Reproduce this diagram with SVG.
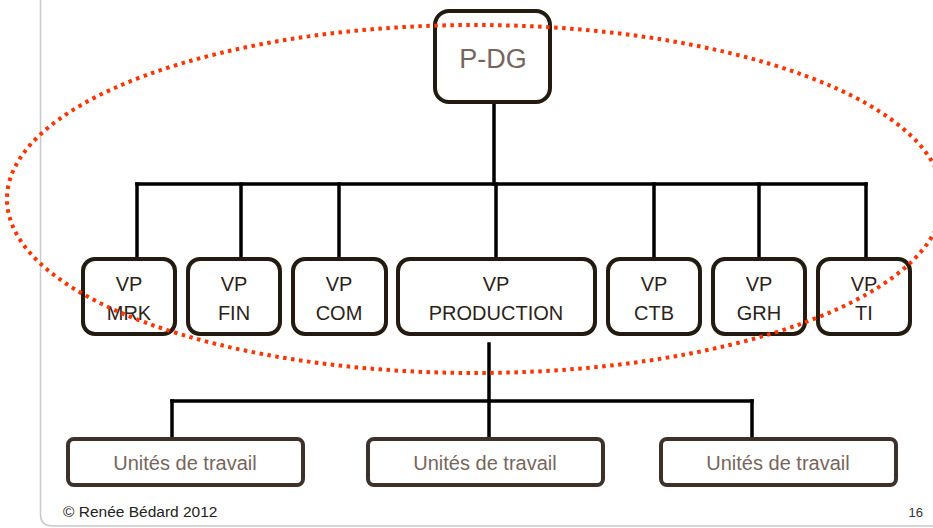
<svg xmlns="http://www.w3.org/2000/svg" width="933" height="528" viewBox="0 0 933 528">
<style>
.box{fill:#ffffff;stroke:#231a10;stroke-width:4}
.ubox{fill:#ffffff;stroke:#3d312a;stroke-width:4}
.vt{font-family:"Liberation Sans",Arial,sans-serif;font-size:20px;fill:#2b2218;text-anchor:middle}
.ut{font-family:"Liberation Sans",Arial,sans-serif;font-size:20px;fill:#76665d;text-anchor:middle}
.conn line{stroke:#000000;stroke-width:3.5;stroke-linecap:square}
</style>
<rect width="933" height="528" fill="#ffffff"/>
<path d="M40.5 0 V514 Q40.5 526 52.5 526 H933" fill="none" stroke="#c8c8c8" stroke-width="1.5"/>
<g id="connectors" class="conn">
<line x1="494" y1="104" x2="494" y2="184"/>
<line x1="137" y1="184" x2="866" y2="184"/>
<line x1="137" y1="184" x2="137" y2="256"/>
<line x1="241" y1="184" x2="241" y2="256"/>
<line x1="339" y1="184" x2="339" y2="256"/>
<line x1="496" y1="184" x2="496" y2="256"/>
<line x1="654" y1="184" x2="654" y2="256"/>
<line x1="759" y1="184" x2="759" y2="256"/>
<line x1="866" y1="184" x2="866" y2="256"/>
<line x1="489" y1="344" x2="489" y2="437"/>
<line x1="172" y1="401" x2="752" y2="401"/>
<line x1="172" y1="401" x2="172" y2="437"/>
<line x1="752" y1="401" x2="752" y2="437"/>
</g>
<g id="pdg">
<rect class="box" x="435" y="11" width="115" height="91" rx="14"/>
<text x="493" y="68" font-family="Liberation Sans,Arial,sans-serif" font-size="27" fill="#76665d" text-anchor="middle">P-DG</text>
</g>
<g id="vp-mrk"><rect class="box" x="83" y="259" width="92" height="75" rx="12"/><text class="vt" x="129" y="291">VP</text><text class="vt" x="129" y="320">MRK</text></g>
<g id="vp-fin"><rect class="box" x="188" y="259" width="92" height="75" rx="12"/><text class="vt" x="234" y="291">VP</text><text class="vt" x="234" y="320">FIN</text></g>
<g id="vp-com"><rect class="box" x="293" y="259" width="93" height="75" rx="12"/><text class="vt" x="339" y="291">VP</text><text class="vt" x="339" y="320">COM</text></g>
<g id="vp-production"><rect class="box" x="398" y="259" width="197" height="75" rx="12"/><text class="vt" x="496" y="291">VP</text><text class="vt" x="496" y="320">PRODUCTION</text></g>
<g id="vp-ctb"><rect class="box" x="608" y="259" width="92" height="75" rx="12"/><text class="vt" x="654" y="291">VP</text><text class="vt" x="654" y="320">CTB</text></g>
<g id="vp-grh"><rect class="box" x="713" y="259" width="92" height="75" rx="12"/><text class="vt" x="759" y="291">VP</text><text class="vt" x="759" y="320">GRH</text></g>
<g id="vp-ti"><rect class="box" x="818" y="259" width="92" height="75" rx="12"/><text class="vt" x="864" y="291">VP</text><text class="vt" x="864" y="320">TI</text></g>
<g id="unit-1"><rect class="ubox" x="68" y="439" width="235" height="46" rx="6"/><text class="ut" x="185" y="470">Unités de travail</text></g>
<g id="unit-2"><rect class="ubox" x="368" y="439" width="235" height="46" rx="6"/><text class="ut" x="485" y="470">Unités de travail</text></g>
<g id="unit-3"><rect class="ubox" x="661" y="439" width="235" height="46" rx="6"/><text class="ut" x="778" y="470">Unités de travail</text></g>
<ellipse id="highlight" cx="475" cy="199" rx="468" ry="174" fill="none" stroke="#ff3300" stroke-width="4" stroke-dasharray="3.5 4.5"/>
<text x="63" y="517" font-family="Liberation Sans,Arial,sans-serif" font-size="15.5" fill="#222222">© Renée Bédard 2012</text>
<text x="923" y="517" font-family="Liberation Sans,Arial,sans-serif" font-size="13" fill="#333333" text-anchor="end">16</text>
</svg>
